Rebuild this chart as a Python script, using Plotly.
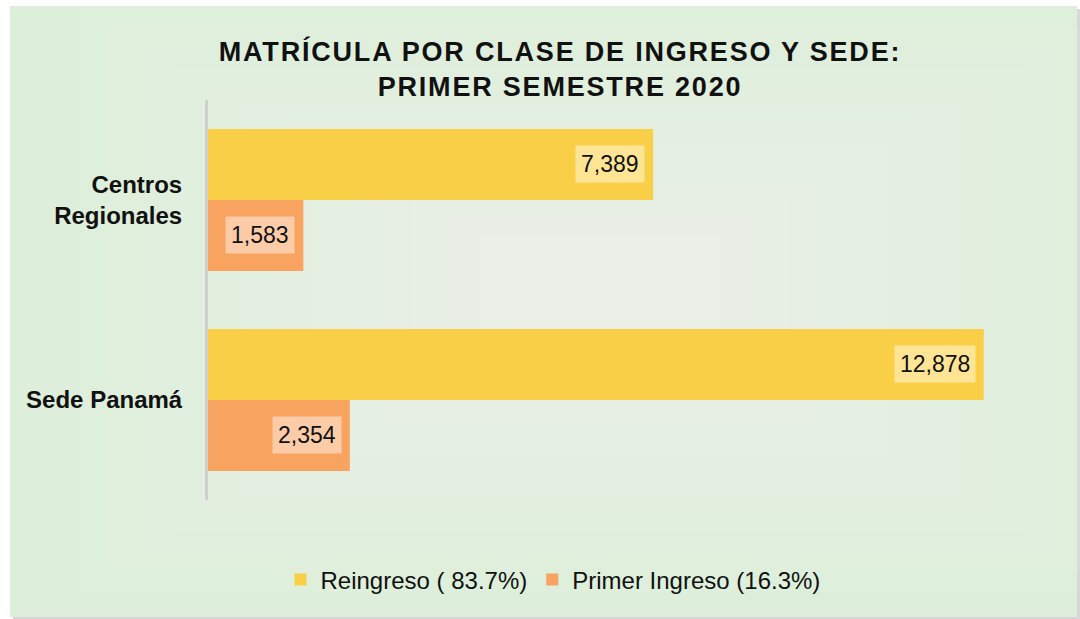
import plotly.graph_objects as go

categories = ["Sede Panamá", "Centros Regionales"]
tick_text = ["Sede Panamá", "Centros<br>Regionales"]
reingreso = [12878, 7389]
primer = [2354, 1583]
series_names = ["Reingreso ( 83.7%)", "Primer Ingreso (16.3%)"]
colors = ["#F8CF46", "#F8A35F"]
label_bg = ["#FEE595", "#FCCCA9"]

FONT = "Liberation Sans, Arial, sans-serif"

fig = go.Figure()
fig.add_trace(go.Bar(y=categories, x=primer, orientation="h", name=series_names[1],
                     marker=dict(color=colors[1], line=dict(width=0)), hoverinfo="x"))
fig.add_trace(go.Bar(y=categories, x=reingreso, orientation="h", name=series_names[0],
                     marker=dict(color=colors[0], line=dict(width=0)), hoverinfo="x"))

# data labels with background boxes
for vals, shift, bg in [(reingreso, 36, label_bg[0]), (primer, -35, label_bg[1])]:
    for cat, v in zip(categories, vals):
        fig.add_annotation(x=v, y=cat, xref="x", yref="y", text=f"{v:,}",
                           showarrow=False, xanchor="right", yanchor="middle",
                           xshift=-8, yshift=shift, bgcolor=bg, borderpad=5,
                           font=dict(family=FONT, size=23, color="#111"))

W, H = 1080, 619
ML, MR, MT, MB = 208, 22, 100, 119
def px_to_paper(x, y):
    return (x - ML) / (W - ML - MR), (H - MB - y) / (H - MT - MB)

shapes = []
# shadow
x0, y1 = px_to_paper(13, 9); x1, y0 = px_to_paper(1081, 621)
shapes.append(dict(type="rect", xref="paper", yref="paper", x0=x0, x1=x1, y0=y0, y1=y1,
                   fillcolor="#d6d6d6", line=dict(width=0), layer="below"))
x0, y1 = px_to_paper(10, 6); x1, y0 = px_to_paper(1077, 617)
shapes.append(dict(type="rect", xref="paper", yref="paper", x0=x0, x1=x1, y0=y0, y1=y1,
                   fillcolor="#DDEFDA", line=dict(width=0), layer="below"))
# soft lightening towards center
cx, cy = 600, 300
for i in range(1, 15):
    w = 560 - i * 34
    h = 310 - i * 19
    ax0, ay1 = px_to_paper(cx - w, cy - h)
    ax1, ay0 = px_to_paper(cx + w, cy + h)
    shapes.append(dict(type="rect", xref="paper", yref="paper", x0=ax0, x1=ax1, y0=ay0, y1=ay1,
                       fillcolor="white", opacity=0.05, line=dict(width=0), layer="below"))

fig.update_layout(
    width=W, height=H,
    margin=dict(l=ML, r=MR, t=MT, b=MB),
    paper_bgcolor="white",
    plot_bgcolor="rgba(0,0,0,0)",
    barmode="group",
    bargap=0.29,
    bargroupgap=0,
    shapes=shapes,
    title=dict(text="MATRÍCULA POR CLASE DE INGRESO Y SEDE:<br>PRIMER SEMESTRE 2020",
               x=(560 - ML) / (W - ML - MR), xref="paper", xanchor="center",
               y=1 - 61 / H, yref="container", yanchor="top",
               font=dict(family=FONT, size=27, color="#111", weight="bold")),
    xaxis=dict(range=[0, 14110], showgrid=False, showticklabels=False, zeroline=False,
               showline=False, fixedrange=True),
    yaxis=dict(categoryorder="array", categoryarray=categories, tickmode="array",
               tickvals=categories, ticktext=tick_text, showgrid=False, zeroline=False,
               showline=True, linecolor="#cfcfcf", linewidth=3, ticks="",
               ticklabelstandoff=18, fixedrange=True,
               tickfont=dict(family=FONT, size=24, color="#111", weight="bold")),
    legend=dict(orientation="h", x=(553 - ML) / (W - ML - MR), xanchor="center",
                y=-(580 - (H - MB)) / (H - MT - MB), yanchor="middle",
                traceorder="reversed", bgcolor="rgba(0,0,0,0)",
                font=dict(family=FONT, size=24, color="#111"), itemwidth=30),
    showlegend=True,
)

fig.write_html("out.html", config={"displayModeBar": False})
with open("out.html", encoding="utf-8") as f:
    html = f.read()
html = html.replace("<body>", '<body style="margin:0;padding:0;">', 1)
html = html.replace("</head>", "<style>.gtitle{letter-spacing:1.8px;}</style></head>", 1)
with open("out.html", "w", encoding="utf-8") as f:
    f.write(html)
